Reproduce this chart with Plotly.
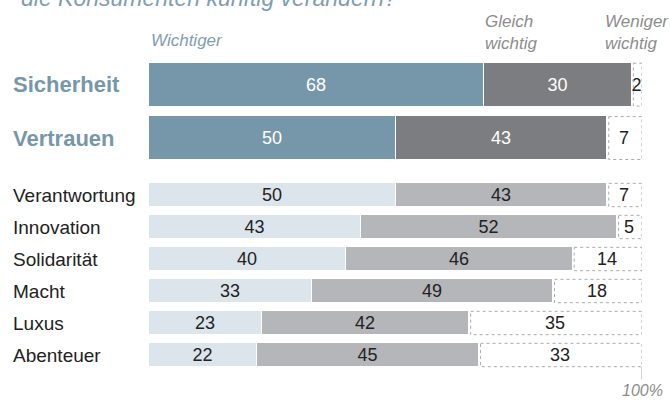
import plotly.graph_objects as go

# ---------------- data ----------------
top_categories = ["Sicherheit", "Vertrauen"]
bottom_categories = ["Verantwortung", "Innovation", "Solidarität", "Macht", "Luxus", "Abenteuer"]

top_wichtiger = [68, 50]
top_gleich = [30, 43]
top_weniger = [2, 7]

bottom_wichtiger = [50, 43, 40, 33, 23, 22]
bottom_gleich = [43, 52, 46, 49, 42, 45]
bottom_weniger = [7, 5, 14, 18, 35, 33]

title_text = "die Konsumenten künftig verändern?"
header_wichtiger = "Wichtiger"
header_gleich = "Gleich<br>wichtig"
header_weniger = "Weniger<br>wichtig"
axis_end_label = "100%"

# ---------------- style ----------------
FONT = "Liberation Sans, Arial, sans-serif"
W, H = 670, 401
BLUE_DARK = "#7697aa"
GRAY_DARK = "#7c7d81"
BLUE_LIGHT = "#dce5eb"
GRAY_LIGHT = "#b5b6b9"
TXT = "#222222"
HEAD_BLUE = "#7f9db2"
HEAD_GRAY = "#8c8c8c"
NUM_SIZE = 18

x_dom = [149 / W, 642 / W]
top_dom = [1 - 164.7 / H, 1 - 58 / H]
bot_dom = [1 - 371 / H, 1 - 179 / H]
top_w = 0.825
bot_w = 0.75

fig = go.Figure()


def add_group(cats, wi, gl, we, yref, width, highlight):
    c1 = BLUE_DARK if highlight else BLUE_LIGHT
    c2 = GRAY_DARK if highlight else GRAY_LIGHT
    t1 = "white" if highlight else TXT
    axref = "x" if yref == "y" else "x2"
    common = dict(orientation="h", y=cats, width=width, yaxis=yref, xaxis=axref,
                  textposition="inside", insidetextanchor="middle", textangle=0,
                  hoverinfo="skip", showlegend=False, cliponaxis=False,
                  marker_line=dict(color="white", width=1))
    fig.add_trace(go.Bar(x=wi, text=[str(v) for v in wi], marker_color=c1,
                         textfont=dict(color=t1, size=NUM_SIZE, family=FONT), **common))
    fig.add_trace(go.Bar(x=gl, text=[str(v) for v in gl], marker_color=c2,
                         textfont=dict(color=t1, size=NUM_SIZE, family=FONT), **common))
    fig.add_trace(go.Bar(x=we, text=[str(v) for v in we], marker_color="white",
                         textfont=dict(color=TXT, size=NUM_SIZE, family=FONT), **common))
    # dashed outlines for the "weniger wichtig" segments
    for i, v in enumerate(we):
        fig.add_shape(type="rect", xref=axref, yref=yref,
                      x0=100 - v + 0.25, x1=100, y0=i - width / 2 + 0.01, y1=i + width / 2 - 0.01,
                      line=dict(color="#ababab", width=1, dash="dot"), fillcolor="rgba(0,0,0,0)")
    # row labels
    for c in cats:
        if highlight:
            fig.add_annotation(x=11 / W, xref="paper", y=c, yref=yref, text="<b>%s</b>" % c,
                               xanchor="left", showarrow=False,
                               font=dict(family=FONT, size=22, color=BLUE_DARK))
        else:
            fig.add_annotation(x=11 / W, xref="paper", y=c, yref=yref, text=c,
                               xanchor="left", showarrow=False,
                               font=dict(family=FONT, size=19, color=TXT))


add_group(top_categories, top_wichtiger, top_gleich, top_weniger, "y", top_w, True)
add_group(bottom_categories, bottom_wichtiger, bottom_gleich, bottom_weniger, "y2", bot_w, False)

axis_common = dict(showgrid=False, zeroline=False, showticklabels=False, showline=False, ticks="")
fig.update_layout(
    width=W, height=H, margin=dict(l=0, r=0, t=0, b=0),
    paper_bgcolor="white", plot_bgcolor="white",
    barmode="stack", bargap=0,
    uniformtext=dict(minsize=NUM_SIZE, mode="show"),
    font=dict(family=FONT),
    xaxis=dict(domain=x_dom, range=[0, 100], anchor="y", **axis_common),
    xaxis2=dict(domain=x_dom, range=[0, 100], anchor="y2", **axis_common),
    yaxis=dict(domain=top_dom, range=[len(top_categories) - 0.5, -0.5], type="category", **axis_common),
    yaxis2=dict(domain=bot_dom, range=[len(bottom_categories) - 0.5, -0.5], type="category", **axis_common),
)

# 100% tick mark and label
fig.add_shape(type="line", xref="x2", yref="paper", x0=100, x1=100,
              y0=1 - 379 / H, y1=1 - 367 / H, line=dict(color="#a0a0a0", width=1))
fig.add_annotation(x=100, xref="x2", y=1 - 390 / H, yref="paper", text="<i>%s</i>" % axis_end_label,
                   showarrow=False, xanchor="center", yanchor="middle",
                   font=dict(family=FONT, size=16, color=HEAD_GRAY))

# headers
fig.add_annotation(x=149 / W, xref="paper", y=1 - 41 / H, yref="paper",
                   text="<i>%s</i>" % header_wichtiger, showarrow=False, xanchor="left", yanchor="middle",
                   font=dict(family=FONT, size=17, color=HEAD_BLUE))
fig.add_annotation(x=483 / W, xref="paper", y=1 - 32 / H, yref="paper",
                   text="<i>%s</i>" % header_gleich, showarrow=False, xanchor="left", yanchor="middle",
                   align="left", font=dict(family=FONT, size=17, color=HEAD_GRAY))
fig.add_annotation(x=603 / W, xref="paper", y=1 - 32 / H, yref="paper",
                   text="<i>%s</i>" % header_weniger, showarrow=False, xanchor="left", yanchor="middle",
                   align="left", font=dict(family=FONT, size=17, color=HEAD_GRAY))

# cropped title at the very top (the reference shows only its lower part)
fig.add_annotation(x=19 / W, xref="paper", y=1 + 2 / H, yref="paper",
                   text="<i>%s</i>" % title_text, showarrow=False, xanchor="left", yanchor="middle",
                   font=dict(family=FONT, size=23, color=HEAD_BLUE))

fig.write_html("out.html")
